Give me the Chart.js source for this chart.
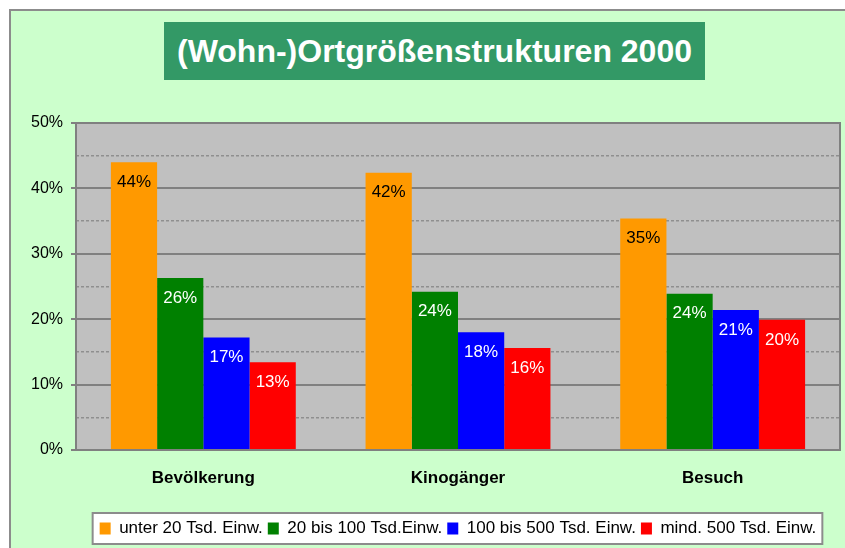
<!DOCTYPE html>
<html>
<head>
<meta charset="utf-8">
<script src="https://cdn.jsdelivr.net/npm/chart.js@4"></script>
<style>
  html, body { margin: 0; padding: 0; background: #fff; }
  body { width: 845px; height: 548px; position: relative; overflow: hidden; }
  #frame { position: absolute; left: 9px; top: 9px; width: 860px; height: 560px; background: #CCFFCC; border-left: 2px solid #8c8c8c; border-top: 2px solid #8c8c8c; }
  #title { position: absolute; left: 164px; top: 22px; width: 541px; height: 58px; background: #339966; color: #fff; font: bold 32px 'Liberation Sans', Arial, sans-serif; text-align: center; line-height: 58px; white-space: nowrap; }
  #wrap { position: absolute; left: 0; top: 0; width: 845px; height: 548px; }
</style>
</head>
<body>
<div id="frame"></div>
<div id="title">(Wohn-)Ortgrößenstrukturen 2000</div>
<div id="wrap"><canvas id="chart" width="845" height="548"></canvas></div>
<script>
const categories = ['Bevölkerung', 'Kinogänger', 'Besuch'];
const seriesNames = ['unter 20 Tsd. Einw.', '20 bis 100 Tsd.Einw.', '100 bis 500 Tsd. Einw.', 'mind. 500 Tsd. Einw.'];
const under20 = [44.0, 42.4, 35.4];
const from20to100 = [26.3, 24.2, 23.9];
const from100to500 = [17.2, 18.0, 21.4];
const over500 = [13.4, 15.6, 19.9];
const yTicks = [0, 10, 20, 30, 40, 50];

const colors = ['#FF9900', '#008000', '#0000FF', '#FF0000'];
const labelColors = ['#000000', '#ffffff', '#ffffff', '#ffffff'];
const FONT = "'Liberation Sans', Arial, sans-serif";

// grauer Plotbereich + weißer Legendenkasten
const backgrounds = {
  id: 'backgrounds',
  beforeDraw(chart) {
    const { ctx, chartArea: a, legend } = chart;
    ctx.save();
    ctx.fillStyle = '#C0C0C0';
    ctx.fillRect(a.left, a.top, a.right - a.left, a.bottom - a.top);
    const boxes = legend.legendHitBoxes || [];
    if (boxes.length) {
      const l = Math.min(...boxes.map(b => b.left)) - 7;
      const r = Math.max(...boxes.map(b => b.left + b.width)) + 6;
      const mid = boxes[0].top + boxes[0].height / 2;
      ctx.fillStyle = '#ffffff';
      ctx.fillRect(l, mid - 15.5, r - l, 31);
      ctx.strokeStyle = '#8c8c8c';
      ctx.lineWidth = 2;
      ctx.strokeRect(l, mid - 15.5, r - l, 31);
    }
    ctx.restore();
  }
};

// Rahmen um den Plotbereich und Prozentwerte in den Balken
const barLabels = {
  id: 'barLabels',
  afterDatasetsDraw(chart) {
    const { ctx, chartArea: a } = chart;
    ctx.save();
    ctx.strokeStyle = '#808080';
    ctx.lineWidth = 2;
    ctx.strokeRect(a.left, a.top, a.right - a.left, a.bottom - a.top);
    ctx.font = '17px ' + FONT;
    ctx.textAlign = 'center';
    ctx.textBaseline = 'middle';
    chart.data.datasets.forEach((ds, i) => {
      ctx.fillStyle = labelColors[i];
      chart.getDatasetMeta(i).data.forEach((bar, j) => {
        ctx.fillText(Math.round(ds.data[j]) + '%', bar.x, bar.y + 20);
      });
    });
    ctx.restore();
  }
};

const seriesData = [under20, from20to100, from100to500, over500];

new Chart(document.getElementById('chart'), {
  type: 'bar',
  data: {
    labels: categories,
    datasets: seriesNames.map((name, i) => ({
      label: name,
      data: seriesData[i],
      backgroundColor: colors[i],
      borderWidth: 0,
      categoryPercentage: 0.726,
      barPercentage: 1.0
    }))
  },
  options: {
    responsive: false,
    animation: false,
    layout: { padding: { top: 123, right: 5, bottom: 1, left: 0 } },
    plugins: {
      title: { display: false },
      tooltip: { enabled: false },
      legend: {
        position: 'bottom',
        fullSize: false,
        labels: {
          boxWidth: 11,
          boxHeight: 12,
          padding: 5,
          color: '#000',
          font: { family: FONT, size: 17 }
        }
      }
    },
    scales: {
      x: {
        grid: { display: false },
        border: { display: false },
        ticks: {
          padding: 10,
          color: '#000',
          font: { family: FONT, size: 17, weight: 'bold' }
        },
        afterFit: s => { s.height = 65; }
      },
      y: {
        min: 0,
        max: 50,
        afterBuildTicks: s => {
          const t = [];
          for (let v = 0; v <= 50; v += 5) t.push({ value: v });
          s.ticks = t;
        },
        ticks: {
          autoSkip: false,
          padding: 8,
          color: '#000',
          font: { family: FONT, size: 16 },
          callback: v => yTicks.includes(v) ? v + '%' : ''
        },
        grid: {
          color: c => c.tick && c.tick.value % 10 ? '#8f8f8f' : '#808080',
          lineWidth: c => c.tick && c.tick.value % 10 ? 1.5 : 2,
          tickLength: 5,
          tickColor: c => c.tick && c.tick.value % 10 ? 'rgba(0,0,0,0)' : '#808080',
          tickWidth: 2
        },
        border: {
          display: false,
          dash: c => c.tick && c.tick.value % 10 ? [3, 2] : []
        },
        afterFit: s => { s.width = 76; }
      }
    }
  },
  plugins: [backgrounds, barLabels]
});
</script>
</body>
</html>
